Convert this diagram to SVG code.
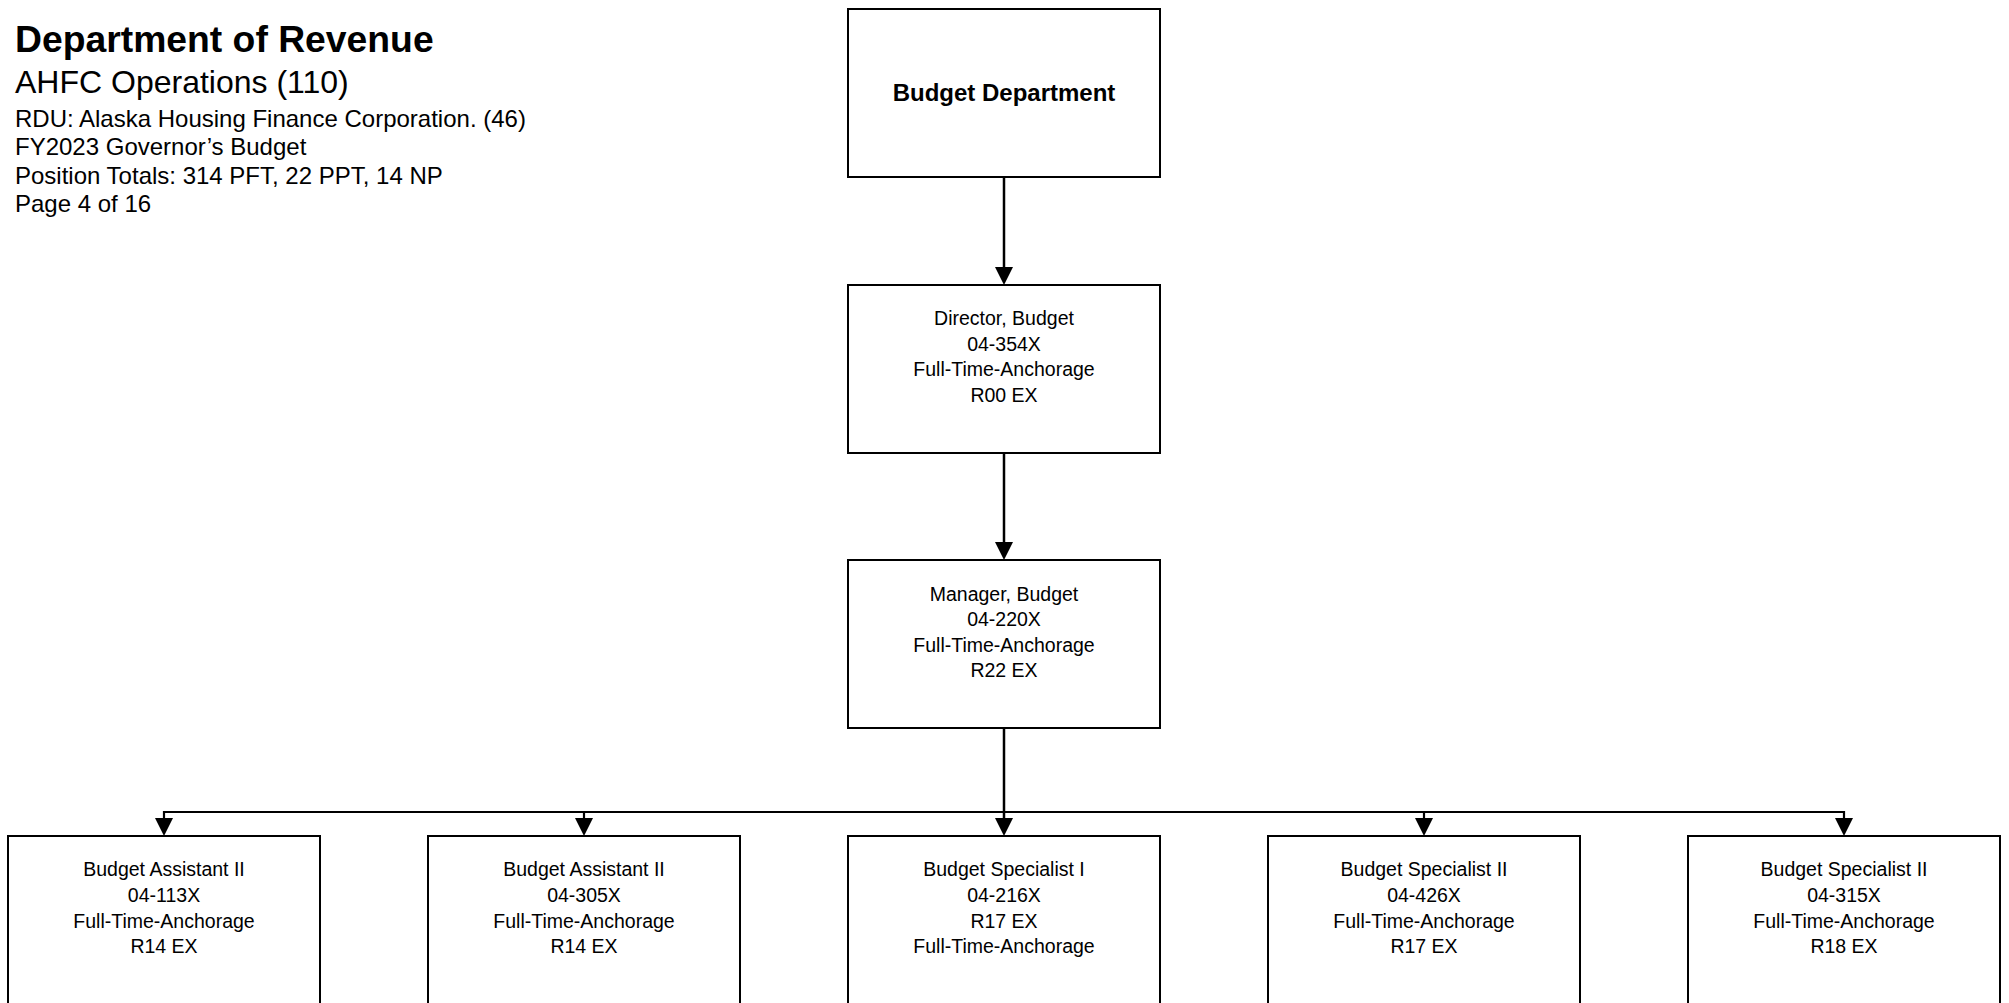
<svg xmlns="http://www.w3.org/2000/svg" width="2009" height="1003" viewBox="0 0 2009 1003">
<style>
  .box { fill: #ffffff; stroke: #000000; stroke-width: 2; }
  .t { font-family: "Liberation Sans", Arial, sans-serif; font-size: 19.5px; fill: #000000; text-anchor: middle; }
  .tb { font-family: "Liberation Sans", Arial, sans-serif; font-size: 24px; font-weight: bold; fill: #000000; text-anchor: middle; }
  .hdr { font-family: "Liberation Sans", Arial, sans-serif; fill: #000000; }
  .sub { font-size: 24px; }
  .conn { fill: none; stroke: #000000; stroke-width: 2.5; }
  .bus { fill: none; stroke: #000000; stroke-width: 2.2; }
</style>
<rect width="2009" height="1003" fill="#ffffff"/>

<g id="header">
  <text class="hdr" x="15" y="52" font-size="37.3" font-weight="bold">Department of Revenue</text>
  <text class="hdr" x="15" y="93" font-size="32">AHFC Operations (110)</text>
  <text class="hdr sub" x="15" y="126.5">RDU: Alaska Housing Finance Corporation. (46)</text>
  <text class="hdr sub" x="15" y="155">FY2023 Governor’s Budget</text>
  <text class="hdr sub" x="15" y="183.5">Position Totals: 314 PFT, 22 PPT, 14 NP</text>
  <text class="hdr sub" x="15" y="212">Page 4 of 16</text>
</g>

<g id="connectors">
  <line class="conn" x1="1004" y1="177" x2="1004" y2="268"/>
  <path d="M995,267 L1013,267 L1004,285 Z" fill="#000000"/>
  <line class="conn" x1="1004" y1="453" x2="1004" y2="543"/>
  <path d="M995,542 L1013,542 L1004,560 Z" fill="#000000"/>
  <line class="conn" x1="1004" y1="728" x2="1004" y2="819" stroke-width="3.2"/>
  <path d="M995,818 L1013,818 L1004,836 Z" fill="#000000"/>
  <polyline class="bus" points="164,820 164,812 1844,812 1844,820"/>
  <line class="bus" x1="584" y1="812" x2="584" y2="820"/>
  <line class="bus" x1="1424" y1="812" x2="1424" y2="820"/>
  <path d="M155,818 L173,818 L164,836 Z" fill="#000000"/>
  <path d="M575,818 L593,818 L584,836 Z" fill="#000000"/>
  <path d="M1415,818 L1433,818 L1424,836 Z" fill="#000000"/>
  <path d="M1835,818 L1853,818 L1844,836 Z" fill="#000000"/>
</g>

<g id="budget-department">
  <rect class="box" x="848" y="9" width="312" height="168"/>
  <text class="tb" x="1004" y="101">Budget Department</text>
</g>

<g id="director-budget">
  <rect class="box" x="848" y="285" width="312" height="168"/>
  <text class="t" x="1004" y="325">Director, Budget</text>
  <text class="t" x="1004" y="351">04-354X</text>
  <text class="t" x="1004" y="376">Full-Time-Anchorage</text>
  <text class="t" x="1004" y="402">R00 EX</text>
</g>

<g id="manager-budget">
  <rect class="box" x="848" y="560" width="312" height="168"/>
  <text class="t" x="1004" y="601">Manager, Budget</text>
  <text class="t" x="1004" y="626">04-220X</text>
  <text class="t" x="1004" y="652">Full-Time-Anchorage</text>
  <text class="t" x="1004" y="677">R22 EX</text>
</g>

<g id="budget-assistant-113">
  <rect class="box" x="8" y="836" width="312" height="168"/>
  <text class="t" x="164" y="876">Budget Assistant II</text>
  <text class="t" x="164" y="902">04-113X</text>
  <text class="t" x="164" y="928">Full-Time-Anchorage</text>
  <text class="t" x="164" y="953">R14 EX</text>
</g>

<g id="budget-assistant-305">
  <rect class="box" x="428" y="836" width="312" height="168"/>
  <text class="t" x="584" y="876">Budget Assistant II</text>
  <text class="t" x="584" y="902">04-305X</text>
  <text class="t" x="584" y="928">Full-Time-Anchorage</text>
  <text class="t" x="584" y="953">R14 EX</text>
</g>

<g id="budget-specialist-216">
  <rect class="box" x="848" y="836" width="312" height="168"/>
  <text class="t" x="1004" y="876">Budget Specialist I</text>
  <text class="t" x="1004" y="902">04-216X</text>
  <text class="t" x="1004" y="928">R17 EX</text>
  <text class="t" x="1004" y="953">Full-Time-Anchorage</text>
</g>

<g id="budget-specialist-426">
  <rect class="box" x="1268" y="836" width="312" height="168"/>
  <text class="t" x="1424" y="876">Budget Specialist II</text>
  <text class="t" x="1424" y="902">04-426X</text>
  <text class="t" x="1424" y="928">Full-Time-Anchorage</text>
  <text class="t" x="1424" y="953">R17 EX</text>
</g>

<g id="budget-specialist-315">
  <rect class="box" x="1688" y="836" width="312" height="168"/>
  <text class="t" x="1844" y="876">Budget Specialist II</text>
  <text class="t" x="1844" y="902">04-315X</text>
  <text class="t" x="1844" y="928">Full-Time-Anchorage</text>
  <text class="t" x="1844" y="953">R18 EX</text>
</g>
</svg>
